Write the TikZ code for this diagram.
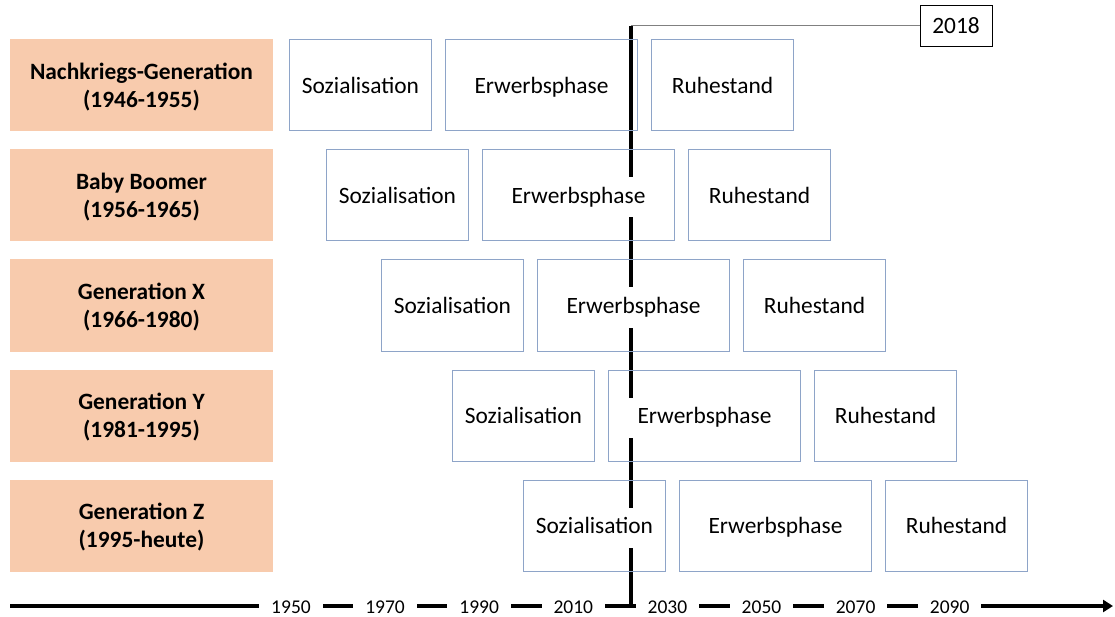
\documentclass[tikz,border=0pt]{standalone}
\usepackage{fontspec}
\setmainfont{Carlito}
\usepackage{xcolor}
\definecolor{genfill}{HTML}{F8CBAD}
\definecolor{phaseline}{HTML}{8EA4C8}
\usepackage{tikz}
\usetikzlibrary{arrows.meta,positioning}

\newcommand{\boxfont}{\fontsize{23.4}{28.5}\selectfont}

\begin{document}
\begin{tikzpicture}[x=1pt,y=-1pt,node distance=13pt,
  genbox/.style={fill=genfill,minimum width=263pt,minimum height=92pt,align=center,text depth=0pt,font=\boxfont\bfseries},
  phasebox/.style={draw=phaseline,line width=1pt,minimum width=142pt,minimum height=91pt},
  widebox/.style={phasebox,minimum width=192pt},
  phasetext/.style={fill=white,inner xsep=9pt,inner ysep=9pt,text height=17pt,text depth=5pt,yshift=-2pt,font=\boxfont},
  yearlabel/.style={fill=white,inner xsep=12pt,inner ysep=1pt,font=\fontsize{19.5}{22}\selectfont}]
\useasboundingbox (0,0) rectangle (1115,617);
% marker 2018
\node[draw,line width=0.8pt,minimum width=72pt,minimum height=41pt,font=\boxfont] (b2018) at (956,26) {2018};
\coordinate (t2018) at (631,26);
% time axis
\coordinate (axisL) at (10,606);
\coordinate (axisR) at (1113,606);
\draw[line width=3.8pt,-{Triangle[length=10pt,width=12pt]}] (axisL) -- (axisR);
\foreach \yr [count=\i from 0] in {1950,1970,...,2090}
  \node[yearlabel] (y\yr) at (291+94.1*\i,607) {\yr};
% today line
\draw[gray,line width=1pt] (b2018.west) -- (t2018);
\draw[line width=3.8pt] (t2018) -- (t2018 |- axisL);
% generations
\foreach \n/\gen/\x in {1/{Nachkriegs-Generation\\(1946-1955)}/289,
    2/{Baby Boomer\\(1956-1965)}/326,
    3/{Generation X\\(1966-1980)}/381,
    4/{Generation Y\\(1981-1995)}/452,
    5/{Generation Z\\(1995-heute)}/523}{
  \node[genbox] (g\n) at (141.5,85.5+110*\n-110) {\gen};
  \node[phasebox,anchor=west,label={[phasetext]center:Sozialisation}] (s\n) at (\x,85.5+110*\n-110) {};
  \node[widebox,right=of s\n,label={[phasetext]center:Erwerbsphase}] (e\n) {};
  \node[phasebox,right=of e\n,label={[phasetext]center:Ruhestand}] (r\n) {};
}
\end{tikzpicture}
\end{document}
